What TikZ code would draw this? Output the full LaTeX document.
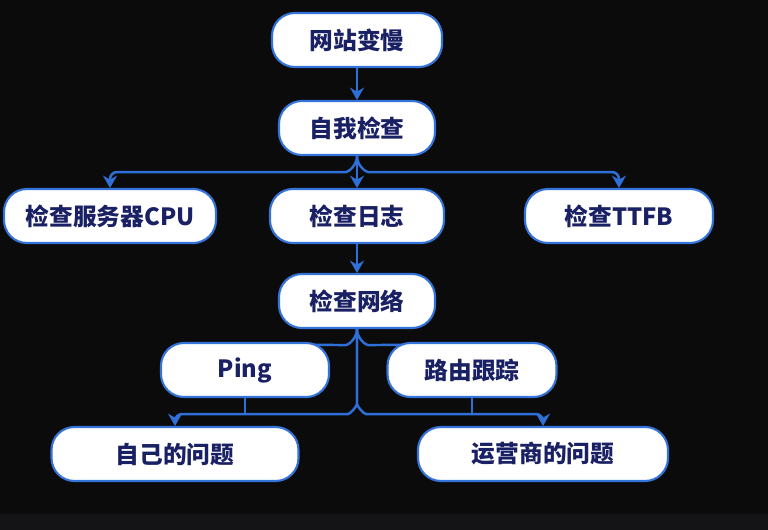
\documentclass[tikz,border=0pt]{standalone}
\usepackage{fontspec}
\newfontfamily\cjk{Noto Sans CJK SC}
\usepackage{tikz}
\usetikzlibrary{arrows.meta,positioning,calc}
\definecolor{bgdark}{HTML}{0B0B0C}
\definecolor{strip}{HTML}{141417}
\definecolor{linkblue}{HTML}{2F6FD8}
\definecolor{boxedge}{HTML}{3473D9}
\definecolor{ink}{HTML}{1A2064}
\pgfdeclarelayer{bg}
\pgfdeclarelayer{lines}
\pgfsetlayers{bg,lines,main}

\begin{document}
\begin{tikzpicture}[x=0.02cm, y=-0.02cm,
  box/.style={draw=boxedge, line width=1.2pt, fill=white, rounded corners=13pt,
    minimum height=1.08cm, inner sep=0pt, text=ink,
    font=\cjk\bfseries\fontsize{13.5}{15}\selectfont},
  link/.style={draw=linkblue, line width=1.4pt, rounded corners=4pt},
  tip/.style={-{Stealth[length=7pt,width=8pt]}}]
% ---- backdrop
\begin{pgfonlayer}{bg}
\fill[bgdark] (0,0) rectangle (768,514);
\fill[strip] (0,514) rectangle (768,530);
\end{pgfonlayer}
\useasboundingbox (0,0) rectangle (768,530);
% ---- boxes
\node[box, minimum width=3.4cm]  (slow)  at (357,40)  {网站变慢};
\node[box, minimum width=3.12cm] (self)  at (357,128) {自我检查};
\node[box, minimum width=4.24cm] (cpu)   at (110,216) {检查服务器CPU};
\node[box, minimum width=3.48cm] (log)   at (357,216) {检查日志};
\node[box, minimum width=3.76cm] (ttfb)  at (619,216) {检查TTFB};
\node[box, minimum width=3.12cm] (net)   at (357,301) {检查网络};
\node[box, minimum width=3.36cm] (ping)  at (245,370) {Ping};
\node[box, minimum width=3.38cm] (trace) at (472,370) {路由跟踪};
\node[box, minimum width=4.94cm] (own)   at (175,454) {自己的问题};
\node[box, minimum width=5.0cm]  (isp)   at (543,454) {运营商的问题};
\coordinate (highbar) at (357,344);
\coordinate (lowbar) at (357,413);
% ---- links
\begin{pgfonlayer}{lines}
\draw[link, tip] (slow) -- (self);
\draw[link, tip] (self) -- (log);
\draw[link, tip] (self.south) to[out=-90, in=0] ++(-18,16) -| (cpu.north);
\draw[link, tip] (self.south) to[out=-90, in=180] ++(18,16) -| (ttfb.north);
\draw[link, tip] (log) -- (net);
\draw[link] (net.south) to[out=-90, in=0] ++(-18,16) -- (ping.center |- highbar);
\draw[link] (net.south) to[out=-90, in=180] ++(18,16) -- (trace.center |- highbar);
\draw[link, tip] (net.south) -- ++(0,68) to[out=-90, in=0] ++(-16,17) -| (own.north);
\draw[link, tip] (net.south) -- ++(0,68) to[out=-90, in=180] ++(16,17) -| (isp.north);
\draw[link] (ping.south) -- (ping.south |- lowbar);
\draw[link] (trace.south) -- (trace.south |- lowbar);
\end{pgfonlayer}
\end{tikzpicture}
\end{document}
